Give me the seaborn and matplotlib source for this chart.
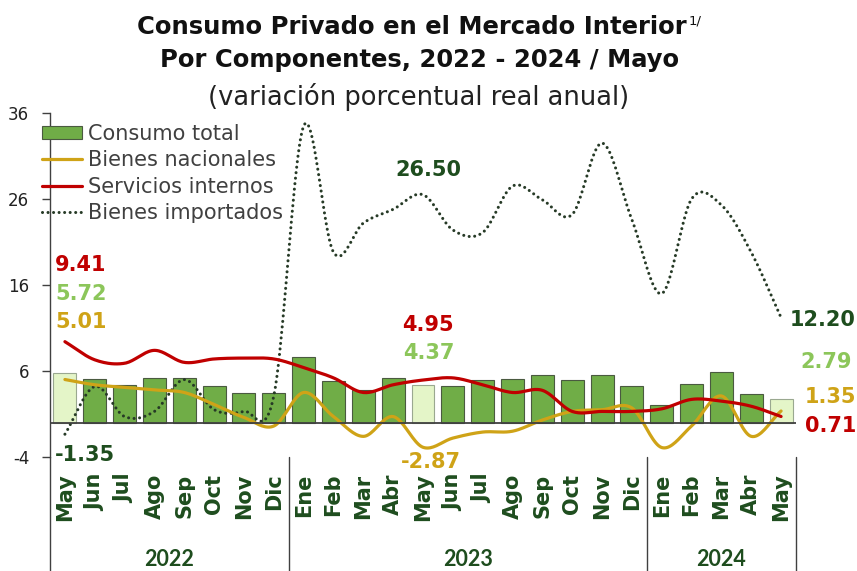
import numpy as np
import pandas as pd
import matplotlib
matplotlib.use("Agg")
import matplotlib.pyplot as plt
from matplotlib.patches import Patch
from matplotlib.lines import Line2D
import seaborn as sns

# datos (variación porcentual real anual)
meses = ["May", "Jun", "Jul", "Ago", "Sep", "Oct", "Nov", "Dic",
         "Ene", "Feb", "Mar", "Abr", "May", "Jun", "Jul", "Ago", "Sep", "Oct", "Nov", "Dic",
         "Ene", "Feb", "Mar", "Abr", "May"]
anios = ["2022", "2023", "2024"]
consumo_total = [5.72, 5.1, 4.4, 5.2, 5.15, 4.3, 3.4, 3.4,
                 7.6, 4.8, 3.8, 5.2, 4.37, 4.3, 4.9, 5.1, 5.5, 5.0, 5.5, 4.2,
                 2.05, 4.5, 5.85, 3.3, 2.79]
bienes_nacionales = [5.01, 4.4, 4.1, 3.8, 3.5, 2.1, 0.6, -0.4,
                     3.5, 0.7, -1.6, 0.7, -2.87, -1.8, -1.1, -1.0, 0.3, 1.3, 1.5, 1.7,
                     -2.9, -0.4, 3.1, -1.6, 1.35]
servicios_internos = [9.41, 7.3, 6.9, 8.4, 7.0, 7.4, 7.5, 7.4,
                      6.4, 5.2, 3.5, 4.4, 4.95, 5.2, 4.4, 3.5, 3.75, 1.3, 1.3, 1.3,
                      1.6, 2.7, 2.5, 1.9, 0.71]
bienes_importados = [-1.35, 4.2, 0.7, 1.3, 5.0, 1.5, 1.3, 3.1,
                     34.5, 19.8, 23.2, 24.8, 26.50, 22.4, 22.1, 27.5, 25.9, 24.2, 32.5, 23.6,
                     15.0, 26.0, 25.3, 19.8, 12.20]
destacados = [0, 12, 24]  # meses resaltados (mayo)

VERDE = "#70ad47"
VERDE_CLARO = "#e4f5c8"
ROJO = "#c00000"
ORO = "#cfa317"
VERDE_OSC = "#1e4d1e"
VERDE_ETQ = "#8cc65a"
GRIS = "#404040"
PUNTOS = "#263a26"


def suavizar(y, n=20):
    """Curva suavizada tipo Excel (Catmull-Rom) a partir de los puntos."""
    y = np.asarray(y, dtype=float)
    x = np.arange(len(y), dtype=float)
    p = np.concatenate([[2 * y[0] - y[1]], y, [2 * y[-1] - y[-2]]])
    xs, ys = [], []
    for i in range(len(y) - 1):
        t = np.linspace(0, 1, n, endpoint=False)
        p0, p1, p2, p3 = p[i], p[i + 1], p[i + 2], p[i + 3]
        yy = 0.5 * ((2 * p1) + (-p0 + p2) * t + (2 * p0 - 5 * p1 + 4 * p2 - p3) * t ** 2
                    + (-p0 + 3 * p1 - 3 * p2 + p3) * t ** 3)
        xs.append(x[i] + t)
        ys.append(yy)
    xs.append([x[-1]])
    ys.append([y[-1]])
    return np.concatenate(xs), np.concatenate(ys)


sns.set_style("white")
plt.rcParams["font.family"] = ["DejaVu Sans"]
plt.rcParams["axes.unicode_minus"] = False

fig = plt.figure(figsize=(8.57, 5.71), dpi=100)
ax = fig.add_axes([50 / 857, 114 / 571, 746 / 857, 344 / 571])

df = pd.DataFrame({"pos": np.arange(len(meses)), "valor": consumo_total})
sns.barplot(data=df, x="pos", y="valor", native_scale=True, width=0.77,
            color=VERDE, saturation=1, edgecolor="#4a5a40", linewidth=0.8,
            ax=ax, zorder=2)
for i, bar in enumerate(ax.patches):
    if i in destacados:
        bar.set_facecolor(VERDE_CLARO)
        bar.set_edgecolor("#9aa890")

for serie, color in [(bienes_nacionales, ORO), (servicios_internos, ROJO)]:
    xs, ys = suavizar(serie)
    sns.lineplot(x=xs, y=ys, sort=False, estimator=None, color=color,
                 linewidth=2.3, ax=ax, zorder=4)
xs, ys = suavizar(bienes_importados)
sns.lineplot(x=xs, y=ys, sort=False, estimator=None, color=PUNTOS,
             linewidth=2.2, ax=ax, zorder=3)
ax.lines[-1].set_dashes((0.01, 1.8))
ax.lines[-1].set_dash_capstyle("round")

ax.axhline(0, color=GRIS, linewidth=1.3, zorder=5)
ax.set_xlim(-0.5, len(meses) - 0.5)
ax.set_ylim(-4, 36)
ax.set_yticks([-4, 6, 16, 26, 36])
ax.set_xticks(range(len(meses)))
ax.set_xticklabels(meses, rotation=90, fontsize=15, fontweight="bold",
                   color=VERDE_OSC, va="top", ha="center")
ax.tick_params(axis="x", length=0, pad=12)
ax.tick_params(axis="y", length=6, width=1, color=GRIS, labelsize=12,
               labelcolor="#222222", direction="out", left=True, pad=9)
ax.set_xlabel("")
ax.set_ylabel("")
for s in ["top", "right", "bottom"]:
    ax.spines[s].set_visible(False)
ax.spines["left"].set_color(GRIS)
ax.spines["left"].set_linewidth(1)

# separadores de años y eje izquierdo prolongado hasta el borde
extra = -114 / 344
for xpos in [-0.5, 7.5, 19.5, 24.5]:
    ax.plot([xpos, xpos], [0, extra], transform=ax.get_xaxis_transform(),
            color=GRIS, linewidth=1, clip_on=False)
for anio, centro in zip(anios, [3.5, 13.5, 22]):
    ax.text(centro, -102 / 344, anio, transform=ax.get_xaxis_transform(),
            ha="center", va="center", fontsize=15.5, fontweight="bold",
            color=VERDE_OSC, family="Lato")

# etiquetas de datos
etq = dict(textcoords="offset pixels", fontsize=15, fontweight="bold", va="center")
ax.annotate(f"{servicios_internos[0]:.2f}", (0, servicios_internos[0]), (-10, 77), color=ROJO, ha="left", **etq)
ax.annotate(f"{consumo_total[0]:.2f}", (0, consumo_total[0]), (-10, 79), color=VERDE_ETQ, ha="left", **etq)
ax.annotate(f"{bienes_nacionales[0]:.2f}", (0, bienes_nacionales[0]), (-10, 58), color=ORO, ha="left", **etq)
ax.annotate(f"{bienes_importados[0]:.2f}", (0, bienes_importados[0]), (-10, -21), color=VERDE_OSC, ha="left", **etq)
ax.annotate(f"{bienes_importados[12]:.2f}", (12, bienes_importados[12]), (5, 25), color=VERDE_OSC, ha="center", **etq)
ax.annotate(f"{servicios_internos[12]:.2f}", (12, servicios_internos[12]), (5, 55), color=ROJO, ha="center", **etq)
ax.annotate(f"{consumo_total[12]:.2f}", (12, consumo_total[12]), (6, 32), color=VERDE_ETQ, ha="center", **etq)
ax.annotate(f"{bienes_nacionales[12]:.2f}", (12, bienes_nacionales[12]), (8, -15), color=ORO, ha="center", **etq)
ax.annotate(f"{bienes_importados[24]:.2f}", (24, bienes_importados[24]), (9, -2), color=VERDE_OSC, ha="left", **etq)
ax.annotate(f"{consumo_total[24]:.2f}", (24, consumo_total[24]), (19, 37), color=VERDE_ETQ, ha="left", **etq)
ax.annotate(f"{bienes_nacionales[24]:.2f}", (24, bienes_nacionales[24]), (24, 14), color=ORO, ha="left", **etq)
ax.annotate(f"{servicios_internos[24]:.2f}", (24, servicios_internos[24]), (24, -10), color=ROJO, ha="left", **etq)

# leyenda
handles = [Patch(facecolor=VERDE, edgecolor="#4a5a40", linewidth=0.8),
           Line2D([], [], color=ORO, linewidth=2.3),
           Line2D([], [], color=ROJO, linewidth=2.3),
           Line2D([], [], color=PUNTOS, linewidth=2.2, dashes=(0.01, 1.8),
                  dash_capstyle="round")]
labels = ["Consumo total", "Bienes nacionales", "Servicios internos", "Bienes importados"]
ax.legend(handles, labels, loc="upper left", bbox_to_anchor=(-0.011, 0.968),
          frameon=False, fontsize=15, labelcolor=GRIS, handlelength=1.95,
          handleheight=0.6, handletextpad=0.25, labelspacing=0.3,
          borderpad=0, borderaxespad=0)

# títulos
t1 = fig.text(0.481, 1 - 27 / 571, "Consumo Privado en el Mercado Interior",
              ha="center", va="center", fontsize=17.5, fontweight="bold", color="#111111")
fig.text(0.49, 1 - 60 / 571, "Por Componentes, 2022 - 2024 / Mayo",
         ha="center", va="center", fontsize=17.5, fontweight="bold", color="#111111")
fig.text(0.488, 1 - 97 / 571, "(variación porcentual real anual)",
         ha="center", va="center", fontsize=18.5, color="#222222")
ax.annotate("1/", xy=(1, 1), xycoords=t1, xytext=(1, 0), textcoords="offset points",
            ha="left", va="top", fontsize=9.5, color="#111111", annotation_clip=False)

fig.savefig("out.png", dpi=100)
